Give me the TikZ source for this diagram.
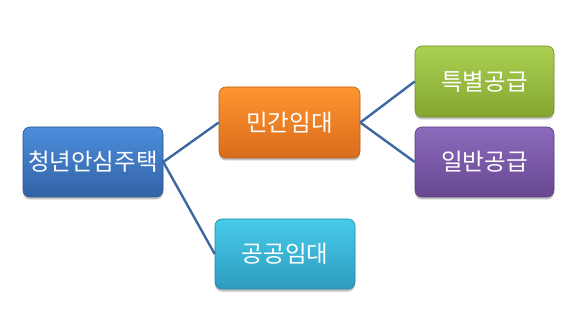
\documentclass[tikz,border=0pt]{standalone}
\usepackage{fontspec}
\newfontfamily\kr{Noto Sans CJK KR}
\usetikzlibrary{shadows,positioning}
\definecolor{lnc}{HTML}{3D68A0}
\tikzset{
  box/.style 2 args={draw=#2!85!black, line width=0.6pt, rounded corners=7pt,
    minimum width=140pt, minimum height=70pt, inner sep=0pt,
    top color=#1, bottom color=#2, middle color=#1!50!#2,
    font=\kr\fontsize{23.5}{26}\selectfont, text=white,
    drop shadow={shadow xshift=0pt, shadow yshift=-2.5pt, opacity=0.35, fill=black!70}},
  conn/.style={draw=lnc, line width=2.4pt}
}
\definecolor{bT}{HTML}{4C8DDB}\definecolor{bB}{HTML}{3362A6}
\definecolor{oT}{HTML}{FF9530}\definecolor{oB}{HTML}{D86C1C}
\definecolor{cT}{HTML}{48CBEA}\definecolor{cB}{HTML}{2C9CC0}
\definecolor{gT}{HTML}{ABD052}\definecolor{gB}{HTML}{84A630}
\definecolor{pT}{HTML}{8C6ABC}\definecolor{pB}{HTML}{684892}
\begin{document}
\begin{tikzpicture}[x=1pt,y=-1pt]
\useasboundingbox (0,0) rectangle (571,326);
\node[box={bT}{bB}] (root) at (93,162) {청년안심주택};
\node[box={oT}{oB}, minimum width=141pt, minimum height=71pt] (min) at (289.5,122.5) {민간임대};
\node[box={cT}{cB}] (gong) at (285,254) {공공임대};
\node[box={gT}{gB}, minimum width=139pt, minimum height=71pt] (teuk) at (484.5,81.5) {특별공급};
\node[box={pT}{pB}, minimum width=139pt] (il) at (484.5,162) {일반공급};
\draw[conn] (root.east) -- (min.west);
\draw[conn] (root.east) -- (gong.west);
\draw[conn] (min.east) -- (teuk.west);
\draw[conn] (min.east) -- (il.west);
\end{tikzpicture}
\end{document}
